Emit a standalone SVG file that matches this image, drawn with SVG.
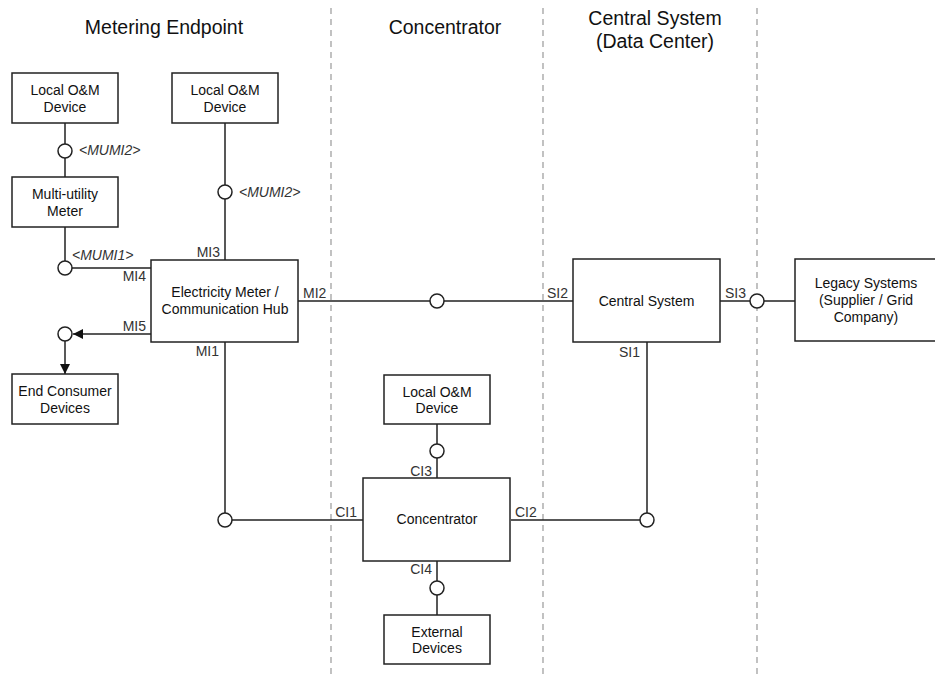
<svg xmlns="http://www.w3.org/2000/svg" width="935" height="675" viewBox="0 0 935 675">
<defs>
<style>
.box{fill:#fff;stroke:#222;stroke-width:1.5}
.t{font-family:"Liberation Sans",Arial,sans-serif;font-size:14px;fill:#111;text-anchor:middle}
.h{font-family:"Liberation Sans",Arial,sans-serif;font-size:19.5px;fill:#111;text-anchor:middle}
.l{font-family:"Liberation Sans",Arial,sans-serif;font-size:14px;fill:#333}
.e{text-anchor:end}
.i{font-style:italic}
.ln{stroke:#222;stroke-width:1.5;fill:none}
.c{fill:#fff;stroke:#222;stroke-width:1.5}
.d{stroke:#999;stroke-width:1.2;stroke-dasharray:6 5;fill:none}
</style>
<marker id="ah" viewBox="0 0 10 10" refX="10" refY="5" markerWidth="10" markerHeight="10" markerUnits="userSpaceOnUse" orient="auto">
<path d="M0,0 L10,5 L0,10 z" fill="#111"/>
</marker>
</defs>
<rect width="935" height="675" fill="#fff"/>
<g id="lanes">
<line class="d" x1="331" y1="8" x2="331" y2="675"/>
<line class="d" x1="543" y1="8" x2="543" y2="675"/>
<line class="d" x1="757" y1="8" x2="757" y2="675"/>
<text class="h" x="164" y="34">Metering Endpoint</text>
<text class="h" x="445" y="34">Concentrator</text>
<text class="h" x="655" y="25">Central System</text>
<text class="h" x="655" y="48">(Data Center)</text>
</g>
<g id="connectors">
<path class="ln" d="M65,123V144M65,158V177"/>
<path class="ln" d="M65,227V261M72,268H151"/>
<path class="ln" d="M225,123V185M225,199V260"/>
<path class="ln" d="M151,334H73" marker-end="url(#ah)"/>
<path class="ln" d="M65,341V374" marker-end="url(#ah)"/>
<path class="ln" d="M298,301H430M444,301H573"/>
<path class="ln" d="M720,301H750M764,301H795"/>
<path class="ln" d="M225,342V513M232,520H363"/>
<path class="ln" d="M511,520H640M647,513V342"/>
<path class="ln" d="M437,424V444M437,458V478"/>
<path class="ln" d="M437,561V581M437,595V615"/>
<circle class="c" cx="65" cy="151" r="7"/>
<circle class="c" cx="65" cy="268" r="7"/>
<circle class="c" cx="225" cy="192" r="7"/>
<circle class="c" cx="65" cy="334" r="7"/>
<circle class="c" cx="437" cy="301" r="7"/>
<circle class="c" cx="757" cy="301" r="7"/>
<circle class="c" cx="225" cy="520" r="7"/>
<circle class="c" cx="647" cy="520" r="7"/>
<circle class="c" cx="437" cy="451" r="7"/>
<circle class="c" cx="437" cy="588" r="7"/>
<text class="l i" x="79" y="155">&lt;MUMI2&gt;</text>
<text class="l i" x="239" y="197">&lt;MUMI2&gt;</text>
<text class="l i" x="72" y="260">&lt;MUMI1&gt;</text>
<text class="l e" x="220" y="257">MI3</text>
<text class="l e" x="146" y="281">MI4</text>
<text class="l e" x="146" y="331">MI5</text>
<text class="l e" x="219" y="356">MI1</text>
<text class="l" x="303" y="298">MI2</text>
<text class="l" x="547" y="298">SI2</text>
<text class="l" x="725" y="298">SI3</text>
<text class="l e" x="640" y="357">SI1</text>
<text class="l e" x="357" y="517">CI1</text>
<text class="l" x="515" y="517">CI2</text>
<text class="l e" x="432" y="476">CI3</text>
<text class="l e" x="432" y="574">CI4</text>
</g>
<g id="om1">
<rect class="box" x="12" y="73" width="106" height="50"/>
<text class="t" x="65" y="95">Local O&amp;M</text>
<text class="t" x="65" y="112">Device</text>
</g>
<g id="mum">
<rect class="box" x="12" y="177" width="106" height="50"/>
<text class="t" x="65" y="199">Multi-utility</text>
<text class="t" x="65" y="216">Meter</text>
</g>
<g id="om2">
<rect class="box" x="172" y="73" width="106" height="50"/>
<text class="t" x="225" y="95">Local O&amp;M</text>
<text class="t" x="225" y="112">Device</text>
</g>
<g id="hub">
<rect class="box" x="151" y="260" width="147" height="82"/>
<text class="t" x="225" y="297">Electricity Meter /</text>
<text class="t" x="225" y="314">Communication Hub</text>
</g>
<g id="ecd">
<rect class="box" x="12" y="374" width="106" height="50"/>
<text class="t" x="65" y="396">End Consumer</text>
<text class="t" x="65" y="413">Devices</text>
</g>
<g id="cs">
<rect class="box" x="573" y="259" width="147" height="83"/>
<text class="t" x="646.5" y="306">Central System</text>
</g>
<g id="legacy">
<rect class="box" x="795" y="259" width="145" height="82"/>
<text class="t" x="866" y="288">Legacy Systems</text>
<text class="t" x="866" y="305">(Supplier / Grid</text>
<text class="t" x="866" y="322">Company)</text>
</g>
<g id="om3">
<rect class="box" x="384" y="375" width="106" height="49"/>
<text class="t" x="437" y="397">Local O&amp;M</text>
<text class="t" x="437" y="413">Device</text>
</g>
<g id="conc">
<rect class="box" x="363" y="478" width="147" height="83"/>
<text class="t" x="437" y="524">Concentrator</text>
</g>
<g id="ext">
<rect class="box" x="384" y="615" width="106" height="49"/>
<text class="t" x="437" y="637">External</text>
<text class="t" x="437" y="653">Devices</text>
</g>
</svg>
